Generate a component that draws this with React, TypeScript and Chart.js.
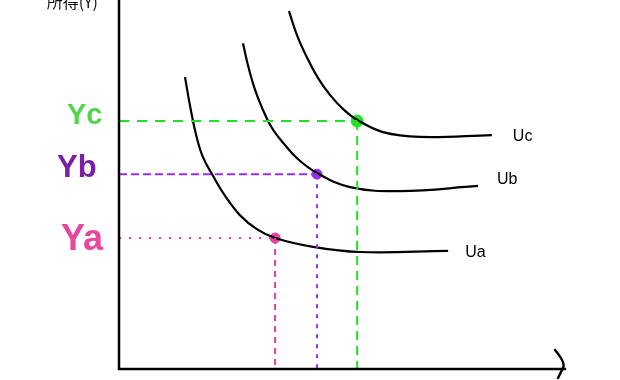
import React, { useEffect, useRef } from "react";
import { Chart, registerables } from "chart.js";
Chart.register(...registerables);

// Indifference curves (x = quantity, y = income), in axis units
const uaX = [14.8, 15.9, 17.3, 18.8, 21.1, 23.8, 27.1, 30.9, 35.0, 43.5, 54.0, 73.8];
const uaY = [79.1, 71.5, 63.4, 57.5, 52.3, 46.9, 41.7, 37.9, 35.5, 33.1, 31.7, 32.0];
const ubX = [27.8, 28.9, 30.3, 32.1, 34.3, 37.0, 40.1, 44.4, 51.8, 63.0, 80.5];
const ubY = [88.3, 82.4, 76.4, 70.7, 65.3, 61.0, 56.9, 53.1, 49.3, 48.2, 49.6];
const ucX = [38.1, 39.9, 42.2, 44.6, 47.3, 50.2, 53.4, 59.2, 67.5, 83.6];
const ucY = [97.0, 90.5, 84.3, 78.9, 74.3, 70.5, 67.5, 64.2, 62.9, 63.4];

// Tangency points a, b, c
const pointNames = ["a", "b", "c"];
const pointX = [35.0, 44.4, 53.4];
const pointY = [35.5, 52.8, 67.2];
const pointColors = ["#e23f9e", "#9b30e8", "#22e022"];
const labelColors = ["#e8479b", "#7a1fa6", "#4fd64a"];

const yLabels = ["Ya", "Yb", "Yc"];
const curveLabels = ["Ua", "Ub", "Uc"];
const yAxisTitle = "所得(Y)";

const zip = (xs: number[], ys: number[]) => xs.map((x, i) => ({ x, y: ys[i] }));

export default function App() {
  const ref = useRef<HTMLCanvasElement>(null);
  useEffect(() => {
    document.body.style.margin = "0";
    const canvas = ref.current!;
    const curves = [zip(uaX, uaY), zip(ubX, ubY), zip(ucX, ucY)];

    const guideStyles = [
      { h: [2, 8], v: [6, 5] },
      { h: [8, 4], v: [4, 6] },
      { h: [10, 8], v: [9, 6] },
    ];

    const datasets: any[] = [];
    pointNames.forEach((_, i) => {
      datasets.push({
        data: [{ x: 0, y: pointY[i] }, { x: pointX[i], y: pointY[i] }],
        showLine: true,
        borderColor: pointColors[i],
        borderWidth: 2,
        borderDash: guideStyles[i].h,
        pointRadius: 0,
      });
      datasets.push({
        data: [{ x: pointX[i], y: pointY[i] }, { x: pointX[i], y: 0 }],
        showLine: true,
        borderColor: pointColors[i],
        borderWidth: 2,
        borderDash: guideStyles[i].v,
        pointRadius: 0,
      });
    });
    curves.forEach((c) => {
      datasets.push({
        data: c,
        showLine: true,
        borderColor: "#000",
        borderWidth: 2.2,
        tension: 0.4,
        pointRadius: 0,
      });
    });
    datasets.push({
      data: zip(pointX, pointY),
      showLine: false,
      pointRadius: [5, 5, 6],
      pointBackgroundColor: pointColors,
      pointBorderColor: pointColors,
    });

    const overlay = {
      id: "overlay",
      afterDraw(chart: any) {
        const { ctx, chartArea: a, scales } = chart;
        const xs = scales.x, ys = scales.y;
        ctx.save();
        // axes
        ctx.strokeStyle = "#000";
        ctx.lineWidth = 2.5;
        ctx.lineCap = "round";
        ctx.beginPath();
        ctx.moveTo(a.left, 0);
        ctx.lineTo(a.left, a.bottom);
        ctx.lineTo(a.right, a.bottom);
        ctx.stroke();
        // arrow head
        ctx.beginPath();
        ctx.moveTo(a.right - 10, a.bottom - 19);
        ctx.quadraticCurveTo(a.right + 1, a.bottom - 6, a.right - 2, a.bottom - 1);
        ctx.lineTo(a.right - 7, a.bottom + 9);
        ctx.stroke();

        // Y labels
        const yOff = [12, 3, 3];
        const ySize = [36, 31, 29];
        const yLeft = [61, 57, 67];
        yLabels.forEach((t, i) => {
          ctx.font = `bold ${ySize[i]}px "Liberation Sans", Arial, sans-serif`;
          ctx.fillStyle = labelColors[i];
          ctx.textAlign = "left";
          ctx.textBaseline = "alphabetic";
          ctx.fillText(t, yLeft[i], ys.getPixelForValue(pointY[i]) + yOff[i]);
        });

        // curve labels
        ctx.font = `16px "Liberation Sans", Arial, sans-serif`;
        ctx.fillStyle = "#000";
        const cx = [uaX, ubX, ucX];
        const cy = [uaY, ubY, ucY];
        const dx = [17, 19, 21];
        const dy = [6, -2, 6];
        curveLabels.forEach((t, i) => {
          const k = cx[i].length - 1;
          ctx.fillText(
            t,
            xs.getPixelForValue(cx[i][k]) + dx[i],
            ys.getPixelForValue(cy[i][k]) + dy[i]
          );
        });

        // axis title
        ctx.font = `16px "Noto Sans CJK JP", sans-serif`;
        ctx.fillStyle = "#111";
        ctx.textAlign = "right";
        ctx.fillText(yAxisTitle, 98, 8);
        ctx.restore();
      },
    };

    const chart = new Chart(canvas, {
      type: "scatter",
      data: { datasets },
      options: {
        animation: false,
        responsive: false,
        layout: { padding: { left: 119, right: 55, top: 0, bottom: 11 } },
        plugins: { legend: { display: false }, tooltip: { enabled: false } },
        scales: {
          x: { type: "linear", min: 0, max: 100, display: false },
          y: { type: "linear", min: 0, max: 98.1, display: false },
        },
        clip: false as any,
      },
      plugins: [overlay],
    });
    return () => chart.destroy();
  }, []);
  return (
    <div style={{ width: 620, height: 380, background: "#fff" }}>
      <canvas ref={ref} width={620} height={380} style={{ display: "block" }} />
    </div>
  );
}
